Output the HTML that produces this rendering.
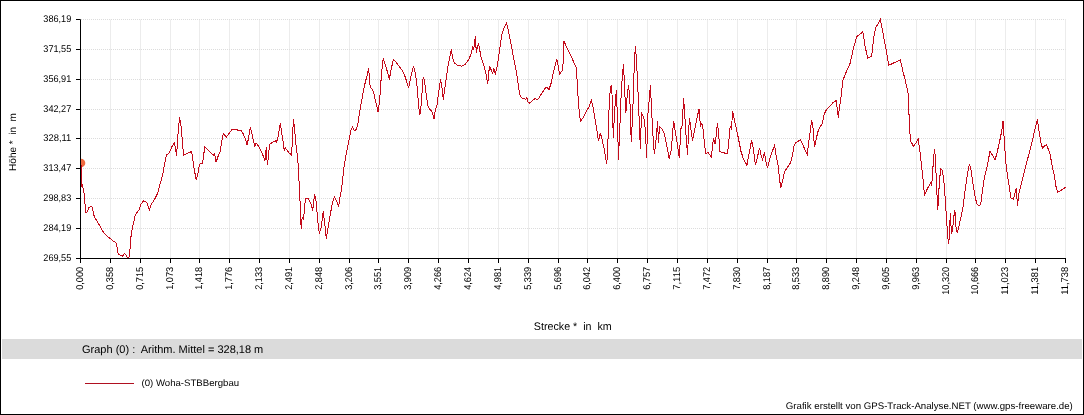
<!DOCTYPE html>
<html><head><meta charset="utf-8"><style>
html,body{margin:0;padding:0;background:#fff;}
#w{position:relative;width:1082px;height:413px;border:1px solid #000;overflow:hidden;background:#fff;}
svg text{font-family:"Liberation Sans",Arial,sans-serif;fill:#000;text-rendering:geometricPrecision;}
</style></head><body><div id="w">
<svg width="1084" height="415" viewBox="0 0 1084 415" style="position:absolute;left:-1px;top:-1px">
<rect x="2" y="339" width="1080" height="20" fill="#dbdbdb"/>
<defs><pattern id="dot" x="0" y="0" width="2" height="1" patternUnits="userSpaceOnUse"><rect x="1" y="0" width="1" height="1" fill="#dcdcdc"/></pattern></defs>
<line x1="110.5" y1="19.5" x2="110.5" y2="258.5" stroke="#ececec" stroke-width="1"/>
<line x1="140.5" y1="19.5" x2="140.5" y2="258.5" stroke="#ececec" stroke-width="1"/>
<line x1="170.5" y1="19.5" x2="170.5" y2="258.5" stroke="#ececec" stroke-width="1"/>
<line x1="199.5" y1="19.5" x2="199.5" y2="258.5" stroke="#ececec" stroke-width="1"/>
<line x1="229.5" y1="19.5" x2="229.5" y2="258.5" stroke="#ececec" stroke-width="1"/>
<line x1="259.5" y1="19.5" x2="259.5" y2="258.5" stroke="#ececec" stroke-width="1"/>
<line x1="289.5" y1="19.5" x2="289.5" y2="258.5" stroke="#ececec" stroke-width="1"/>
<line x1="319.5" y1="19.5" x2="319.5" y2="258.5" stroke="#ececec" stroke-width="1"/>
<line x1="349.5" y1="19.5" x2="349.5" y2="258.5" stroke="#ececec" stroke-width="1"/>
<line x1="378.5" y1="19.5" x2="378.5" y2="258.5" stroke="#ececec" stroke-width="1"/>
<line x1="408.5" y1="19.5" x2="408.5" y2="258.5" stroke="#ececec" stroke-width="1"/>
<line x1="438.5" y1="19.5" x2="438.5" y2="258.5" stroke="#ececec" stroke-width="1"/>
<line x1="468.5" y1="19.5" x2="468.5" y2="258.5" stroke="#ececec" stroke-width="1"/>
<line x1="498.5" y1="19.5" x2="498.5" y2="258.5" stroke="#ececec" stroke-width="1"/>
<line x1="528.5" y1="19.5" x2="528.5" y2="258.5" stroke="#ececec" stroke-width="1"/>
<line x1="558.5" y1="19.5" x2="558.5" y2="258.5" stroke="#ececec" stroke-width="1"/>
<line x1="587.5" y1="19.5" x2="587.5" y2="258.5" stroke="#ececec" stroke-width="1"/>
<line x1="617.5" y1="19.5" x2="617.5" y2="258.5" stroke="#ececec" stroke-width="1"/>
<line x1="647.5" y1="19.5" x2="647.5" y2="258.5" stroke="#ececec" stroke-width="1"/>
<line x1="677.5" y1="19.5" x2="677.5" y2="258.5" stroke="#ececec" stroke-width="1"/>
<line x1="707.5" y1="19.5" x2="707.5" y2="258.5" stroke="#ececec" stroke-width="1"/>
<line x1="737.5" y1="19.5" x2="737.5" y2="258.5" stroke="#ececec" stroke-width="1"/>
<line x1="767.5" y1="19.5" x2="767.5" y2="258.5" stroke="#ececec" stroke-width="1"/>
<line x1="796.5" y1="19.5" x2="796.5" y2="258.5" stroke="#ececec" stroke-width="1"/>
<line x1="826.5" y1="19.5" x2="826.5" y2="258.5" stroke="#ececec" stroke-width="1"/>
<line x1="856.5" y1="19.5" x2="856.5" y2="258.5" stroke="#ececec" stroke-width="1"/>
<line x1="886.5" y1="19.5" x2="886.5" y2="258.5" stroke="#ececec" stroke-width="1"/>
<line x1="916.5" y1="19.5" x2="916.5" y2="258.5" stroke="#ececec" stroke-width="1"/>
<line x1="946.5" y1="19.5" x2="946.5" y2="258.5" stroke="#ececec" stroke-width="1"/>
<line x1="975.5" y1="19.5" x2="975.5" y2="258.5" stroke="#ececec" stroke-width="1"/>
<line x1="1005.5" y1="19.5" x2="1005.5" y2="258.5" stroke="#ececec" stroke-width="1"/>
<line x1="1035.5" y1="19.5" x2="1035.5" y2="258.5" stroke="#ececec" stroke-width="1"/>
<line x1="1065.5" y1="19.5" x2="1065.5" y2="258.5" stroke="#ececec" stroke-width="1"/>
<rect x="81" y="19.0" width="984.5" height="1" fill="url(#dot)"/>
<rect x="81" y="49.0" width="984.5" height="1" fill="url(#dot)"/>
<rect x="81" y="79.0" width="984.5" height="1" fill="url(#dot)"/>
<rect x="81" y="109.0" width="984.5" height="1" fill="url(#dot)"/>
<rect x="81" y="138.0" width="984.5" height="1" fill="url(#dot)"/>
<rect x="81" y="168.0" width="984.5" height="1" fill="url(#dot)"/>
<rect x="81" y="198.0" width="984.5" height="1" fill="url(#dot)"/>
<rect x="81" y="228.0" width="984.5" height="1" fill="url(#dot)"/>
<clipPath id="c"><rect x="81" y="0" width="990" height="259"/></clipPath>
<circle cx="81" cy="163" r="4.3" fill="#ee6a40" clip-path="url(#c)"/>
<polyline points="81.5,165 81.5,187 82.3,185 83.8,191.2 85.9,212.8 86.9,212.5 88.8,207.8 91,206.3 92.4,207.5 93.6,214.3 94.7,217.6 97.3,221.6 100,226.2 102.6,230.9 105.3,234.4 107.9,236.8 111.2,239.2 113.9,241.5 115.9,242.8 117.2,247.4 117.9,252.7 119.2,254.7 122.5,256.1 124.5,253.4 126.2,255.1 127.1,257.4 128.9,257.8 129.8,251.4 131.1,235.5 132.5,227.5 133.8,222.2 135.1,215.6 137.1,212.3 139.1,209.6 140.5,205 143.6,200.9 146.8,202.2 149.4,209.7 151.1,204.7 154.4,199.6 157.7,193.3 160,184.1 162.7,175.1 164.5,164.2 166.3,155.2 169,153.4 171.7,147 174.5,142.5 176.6,156.1 177.7,138 179.5,117.2 180.8,123.6 181.7,133.5 183.5,155.2 187.1,153.4 191.6,151.6 194,167.8 196.1,179.6 198,173.3 199.4,164.2 202.5,163.3 204.8,147 207,148.9 210.6,152.5 213.3,155.2 214.6,153.4 216,162.4 217.9,156.9 220.1,151.9 221.5,142.5 223.4,133.5 224.8,135.2 226.3,137.4 229.2,133.1 232.3,129.2 235.2,129.2 238.1,130.2 241,130.2 243.2,133.8 245.4,138.9 247.1,145.4 249,135.2 250.4,127.3 251.9,133.8 253.3,140.3 254.8,146.1 256.2,143.2 258.4,146.1 262,153.3 263.4,156.2 264.9,161.3 266.3,146.8 267.3,164.9 268.2,158.4 269.6,144.6 272.1,142.5 275.5,141 276.5,142.5 278,136.7 279.4,128.7 280.4,123.4 281.6,132.3 282.7,138.9 283.7,146.8 284.5,151.1 285.2,147.5 286.6,149.7 288.8,152.6 291.7,155.2 292.4,138.1 293.4,119.3 294.6,129.5 295.3,136.7 296,145.4 297.5,156.9 298.2,165.6 298.7,174.7 299.7,194 300.6,215.2 301.2,228.7 302.2,217.1 303.5,219.1 305.4,198.8 308.3,198.8 311.2,204.6 312.8,210.4 314.5,194 316.1,201.7 318,222.9 319.3,233.5 321.3,226.8 323.2,211.3 324.7,222.9 326.3,239.3 327.6,230.6 330.5,213.3 332.5,202.6 334.4,196.9 337.3,202.6 338.6,206.5 340.2,195.9 341.7,188.2 343.1,175 344.3,165.1 346.1,154.2 347.9,145.2 349.7,136.1 351,129.8 352.5,127.1 354.3,130.4 356.1,129.8 357.9,123.5 359.3,114.5 360.6,107.2 361.5,101.3 363,93.3 364.4,86.1 365.8,80.3 367.3,74.5 368.7,68 369.2,75.2 370.2,87.5 372.4,89.5 373.8,93.3 375.2,99.8 376.7,105.6 378.1,112.3 379.3,102.7 380.3,91.2 381.3,76 382.5,63.7 383.2,58.5 385.4,65.1 387.4,71.8 389.3,79.6 391.2,68.9 393.5,59.3 396,62.2 398.9,66 401.8,69.9 404.7,75.7 406.7,81.5 408.6,88.2 410.5,78.6 413.4,66 415.3,72.8 417.3,88.2 418.6,105.6 419.8,115.2 421.1,105.6 423.1,77.6 424.4,79.6 426.3,95 427.9,105.6 430,109.5 431.9,111.3 434.2,119.3 435.3,110.1 436.9,105.6 438.7,91.8 440.6,79.2 442.2,89.5 443.3,99.8 445.6,82.7 447.9,66.6 449.7,57.5 451.3,49.5 452.5,57.5 454.3,63.2 458.2,65.5 461.6,66.2 465.1,64.3 468.5,59.8 471.1,54 472.6,47.5 473.7,49.7 474.7,42.1 475.4,35.6 476.3,52.9 477.6,46.4 478.4,43.2 479.7,49.7 481.2,58.3 483.4,63.7 484.9,69.1 486.7,77.8 487.7,84.3 488.8,71.3 489.9,67 491.4,70.2 492.7,73.5 493.8,68.1 495.3,74.6 497.5,64.8 499.7,49.7 501.8,34.5 504,28 506.6,23.2 508.3,30.2 510.5,41 513.7,58.3 517,75.6 519.1,90.8 520.2,96.2 522.4,98.4 524.2,98.5 525.8,99.5 526.8,97.5 527.7,101.4 529.3,103.3 531.6,101.4 535,98.5 537.4,99.8 539.3,97.5 542.2,92.7 546,86.9 547.4,87.9 548.9,89.8 550.9,84 552.8,75.3 554.7,67.6 556.7,58.9 558.2,65.7 559.6,74.4 561.5,71.5 562.8,70.5 563.8,40.6 566.3,46.4 570.2,54.1 574,62.8 576,66.7 576.9,77.3 578.6,105.9 580.4,121.2 583.1,117.6 585.9,112.2 589.5,105.9 591.3,100.4 593.1,107.7 594.9,118.5 596.7,129.4 598.5,141.2 600.3,133 602.1,139.3 604.7,151.7 606.6,164.3 607.6,152.9 608.6,118.8 609.4,101 610.2,90.2 611.3,84.7 612.5,101 612.9,123.5 613.3,137.6 614.4,114.9 615.4,99.6 616.5,90.2 617.2,112.5 618.5,159.6 619.6,129.8 620.7,111 621.2,90.2 622.7,72.9 623.5,64.3 624.3,81.5 625.4,105 625.9,112.5 627.4,93.3 628.5,85.5 629.8,96.4 630.6,125.1 631.3,142.3 632.9,107.8 633.7,82.3 634.5,58.8 635.4,46.3 636.4,58.8 637.3,77.6 638.4,99.6 639.2,120.4 640.4,148.6 641.5,112.5 643.9,118 645.5,131.3 646.6,158 647.9,114 649.2,100.4 650.4,85 651.8,114 653.1,137.1 654.3,153.5 655.6,144.8 656.6,133.3 657.5,120.7 658.5,142.9 659.5,126.5 662.4,129.4 664.3,133.3 665.8,141 667.2,147.7 669.1,158.4 671.1,150.6 672,141 673.6,120.7 674.9,129.4 676.9,141 678.2,150.6 679.4,158.4 680.7,129.4 682.1,125.5 683.6,98.5 684.6,112 685.9,133.3 687.5,154.5 689.4,117.8 692.5,140.5 694.6,129.6 697.2,117.1 699,109 700.5,126.2 701.8,123.5 703,128.9 704.5,144.3 705.9,153.3 708.1,152.4 709.9,155.1 711.3,157 712.6,146.1 713.5,137.9 715,144.3 716.2,135.2 717.5,122.6 718.6,133.4 719.9,151.5 722.6,152.4 725.3,153.3 727.6,153.3 728.9,140.7 730.2,126.2 731.6,128.9 732.5,110.8 733.4,115.3 735.2,123.5 737.4,133.4 739.2,142.5 741,151.5 743.4,158.8 746.9,165.2 749,154.3 751.7,139.9 753.6,150.7 755.4,165.2 757.2,158 759.5,148 761.3,156.1 762.6,159.8 764.4,152.5 765.7,160.7 767.5,167.9 769.8,158.9 772.5,150.7 774.7,145.3 776.1,155.2 778,165.2 779.4,177.8 780.7,187.8 782.5,181.4 784.3,172.4 787,167.9 789.7,164.3 791.5,159.8 793,152.5 794.2,145.3 796,142.6 797.8,141.3 800.4,140.1 803.1,145.5 805.5,151 807.3,154.6 808.6,142.8 810.4,130.2 811.6,120.2 813.1,128.4 814.5,147.4 816.3,138.3 818.1,131.1 820.3,126.6 822.5,123 824.3,113.9 826.1,110.3 829.3,106.7 833,102.7 836.2,100.4 838.4,117.5 839.3,108.5 841,97 843,80 846.1,72.3 850.2,63.1 853.3,48.8 856.8,36.5 860.5,33.8 862.9,31.8 865,45.7 867.6,58 871.7,56 873.8,37.5 875.8,27.3 878.5,23.2 880.3,19.5 883,33.4 886.1,49.8 888.7,65.2 892.2,63.7 896.3,61.7 900.3,60 902.9,71.2 905.6,81.7 908.2,93.7 909.6,129.4 910.7,141.3 913.6,146.4 916.3,142.3 918.3,139.2 919.8,150.5 921.4,164.8 923,179.2 924.5,195.6 926.5,190.5 929.2,185.3 930.6,182.9 931.6,186.4 932.7,171 933.7,156.6 934.7,149.5 935.7,164.8 936.8,191.5 937.8,209.9 938.8,191.5 939.8,177.1 940.9,168.9 942.3,170 943.9,181.2 945.3,200 946.4,216.9 947.6,235.3 948.7,244.4 949.6,230.7 950.3,213.5 951.5,234.1 952.6,229.5 953.8,216.9 954.9,210 956.1,228.4 957.2,233 959.5,223.8 962.9,207.8 965.2,189.4 967.5,173.3 969.4,164.2 971,170 972,177 973.8,189 975.6,199 977.1,204.5 979.2,205.5 980.7,204.5 981.9,194.5 983.7,182 985.5,173 987.3,165.7 990,151.2 992.7,155.5 995.1,160 997.4,151.2 999.5,142 1001.8,130.6 1003,121 1004.2,139 1005.4,156.6 1006.3,168 1008.6,182.3 1011,197.9 1013.4,199.1 1015,193.1 1016.3,188.3 1017.5,206.3 1018.7,194.3 1021.1,184.7 1024.7,170.3 1028.3,156.4 1031.7,143.2 1034.8,130 1037.4,119.1 1039.1,131.7 1040.7,141.5 1042.4,148 1044.6,145.9 1046.3,144.8 1047.8,148 1050,153.5 1052.2,166.5 1054.3,175.2 1055.9,186.1 1057.6,192.2 1060.9,190.4 1064.1,188.3 1065.5,187" fill="none" stroke="#c40a1a" stroke-width="1" shape-rendering="crispEdges"/>
<line x1="80.5" y1="19.5" x2="80.5" y2="259.0" stroke="#000" stroke-width="1"/>
<line x1="80.0" y1="258.5" x2="1066.0" y2="258.5" stroke="#000" stroke-width="1"/>
<line x1="76" y1="19.5" x2="80.5" y2="19.5" stroke="#000" stroke-width="1"/>
<line x1="76" y1="49.5" x2="80.5" y2="49.5" stroke="#000" stroke-width="1"/>
<line x1="76" y1="79.5" x2="80.5" y2="79.5" stroke="#000" stroke-width="1"/>
<line x1="76" y1="109.5" x2="80.5" y2="109.5" stroke="#000" stroke-width="1"/>
<line x1="76" y1="138.5" x2="80.5" y2="138.5" stroke="#000" stroke-width="1"/>
<line x1="76" y1="168.5" x2="80.5" y2="168.5" stroke="#000" stroke-width="1"/>
<line x1="76" y1="198.5" x2="80.5" y2="198.5" stroke="#000" stroke-width="1"/>
<line x1="76" y1="228.5" x2="80.5" y2="228.5" stroke="#000" stroke-width="1"/>
<line x1="76" y1="258.5" x2="80.5" y2="258.5" stroke="#000" stroke-width="1"/>
<line x1="80.5" y1="258.5" x2="80.5" y2="263" stroke="#000" stroke-width="1"/>
<line x1="110.5" y1="258.5" x2="110.5" y2="263" stroke="#000" stroke-width="1"/>
<line x1="140.5" y1="258.5" x2="140.5" y2="263" stroke="#000" stroke-width="1"/>
<line x1="170.5" y1="258.5" x2="170.5" y2="263" stroke="#000" stroke-width="1"/>
<line x1="199.5" y1="258.5" x2="199.5" y2="263" stroke="#000" stroke-width="1"/>
<line x1="229.5" y1="258.5" x2="229.5" y2="263" stroke="#000" stroke-width="1"/>
<line x1="259.5" y1="258.5" x2="259.5" y2="263" stroke="#000" stroke-width="1"/>
<line x1="289.5" y1="258.5" x2="289.5" y2="263" stroke="#000" stroke-width="1"/>
<line x1="319.5" y1="258.5" x2="319.5" y2="263" stroke="#000" stroke-width="1"/>
<line x1="349.5" y1="258.5" x2="349.5" y2="263" stroke="#000" stroke-width="1"/>
<line x1="378.5" y1="258.5" x2="378.5" y2="263" stroke="#000" stroke-width="1"/>
<line x1="408.5" y1="258.5" x2="408.5" y2="263" stroke="#000" stroke-width="1"/>
<line x1="438.5" y1="258.5" x2="438.5" y2="263" stroke="#000" stroke-width="1"/>
<line x1="468.5" y1="258.5" x2="468.5" y2="263" stroke="#000" stroke-width="1"/>
<line x1="498.5" y1="258.5" x2="498.5" y2="263" stroke="#000" stroke-width="1"/>
<line x1="528.5" y1="258.5" x2="528.5" y2="263" stroke="#000" stroke-width="1"/>
<line x1="558.5" y1="258.5" x2="558.5" y2="263" stroke="#000" stroke-width="1"/>
<line x1="587.5" y1="258.5" x2="587.5" y2="263" stroke="#000" stroke-width="1"/>
<line x1="617.5" y1="258.5" x2="617.5" y2="263" stroke="#000" stroke-width="1"/>
<line x1="647.5" y1="258.5" x2="647.5" y2="263" stroke="#000" stroke-width="1"/>
<line x1="677.5" y1="258.5" x2="677.5" y2="263" stroke="#000" stroke-width="1"/>
<line x1="707.5" y1="258.5" x2="707.5" y2="263" stroke="#000" stroke-width="1"/>
<line x1="737.5" y1="258.5" x2="737.5" y2="263" stroke="#000" stroke-width="1"/>
<line x1="767.5" y1="258.5" x2="767.5" y2="263" stroke="#000" stroke-width="1"/>
<line x1="796.5" y1="258.5" x2="796.5" y2="263" stroke="#000" stroke-width="1"/>
<line x1="826.5" y1="258.5" x2="826.5" y2="263" stroke="#000" stroke-width="1"/>
<line x1="856.5" y1="258.5" x2="856.5" y2="263" stroke="#000" stroke-width="1"/>
<line x1="886.5" y1="258.5" x2="886.5" y2="263" stroke="#000" stroke-width="1"/>
<line x1="916.5" y1="258.5" x2="916.5" y2="263" stroke="#000" stroke-width="1"/>
<line x1="946.5" y1="258.5" x2="946.5" y2="263" stroke="#000" stroke-width="1"/>
<line x1="975.5" y1="258.5" x2="975.5" y2="263" stroke="#000" stroke-width="1"/>
<line x1="1005.5" y1="258.5" x2="1005.5" y2="263" stroke="#000" stroke-width="1"/>
<line x1="1035.5" y1="258.5" x2="1035.5" y2="263" stroke="#000" stroke-width="1"/>
<line x1="1065.5" y1="258.5" x2="1065.5" y2="263" stroke="#000" stroke-width="1"/>
<text x="71.3" y="21.8" text-anchor="end" font-size="9.8" textLength="28" lengthAdjust="spacingAndGlyphs">386,19</text>
<text x="71.3" y="51.8" text-anchor="end" font-size="9.8" textLength="28" lengthAdjust="spacingAndGlyphs">371,55</text>
<text x="71.3" y="81.8" text-anchor="end" font-size="9.8" textLength="28" lengthAdjust="spacingAndGlyphs">356,91</text>
<text x="71.3" y="111.8" text-anchor="end" font-size="9.8" textLength="28" lengthAdjust="spacingAndGlyphs">342,27</text>
<text x="71.3" y="140.8" text-anchor="end" font-size="9.8" textLength="28" lengthAdjust="spacingAndGlyphs">328,11</text>
<text x="71.3" y="170.8" text-anchor="end" font-size="9.8" textLength="28" lengthAdjust="spacingAndGlyphs">313,47</text>
<text x="71.3" y="200.8" text-anchor="end" font-size="9.8" textLength="28" lengthAdjust="spacingAndGlyphs">298,83</text>
<text x="71.3" y="230.8" text-anchor="end" font-size="9.8" textLength="28" lengthAdjust="spacingAndGlyphs">284,19</text>
<text x="71.3" y="260.8" text-anchor="end" font-size="9.8" textLength="28" lengthAdjust="spacingAndGlyphs">269,55</text>
<text transform="translate(83.1,266.8) rotate(-90)" text-anchor="end" font-size="9.8" textLength="23" lengthAdjust="spacingAndGlyphs">0,000</text>
<text transform="translate(113.1,266.8) rotate(-90)" text-anchor="end" font-size="9.8" textLength="23" lengthAdjust="spacingAndGlyphs">0,358</text>
<text transform="translate(143.1,266.8) rotate(-90)" text-anchor="end" font-size="9.8" textLength="23" lengthAdjust="spacingAndGlyphs">0,715</text>
<text transform="translate(173.1,266.8) rotate(-90)" text-anchor="end" font-size="9.8" textLength="23" lengthAdjust="spacingAndGlyphs">1,073</text>
<text transform="translate(202.1,266.8) rotate(-90)" text-anchor="end" font-size="9.8" textLength="23" lengthAdjust="spacingAndGlyphs">1,418</text>
<text transform="translate(232.1,266.8) rotate(-90)" text-anchor="end" font-size="9.8" textLength="23" lengthAdjust="spacingAndGlyphs">1,776</text>
<text transform="translate(262.1,266.8) rotate(-90)" text-anchor="end" font-size="9.8" textLength="23" lengthAdjust="spacingAndGlyphs">2,133</text>
<text transform="translate(292.1,266.8) rotate(-90)" text-anchor="end" font-size="9.8" textLength="23" lengthAdjust="spacingAndGlyphs">2,491</text>
<text transform="translate(322.1,266.8) rotate(-90)" text-anchor="end" font-size="9.8" textLength="23" lengthAdjust="spacingAndGlyphs">2,848</text>
<text transform="translate(352.1,266.8) rotate(-90)" text-anchor="end" font-size="9.8" textLength="23" lengthAdjust="spacingAndGlyphs">3,206</text>
<text transform="translate(381.1,266.8) rotate(-90)" text-anchor="end" font-size="9.8" textLength="23" lengthAdjust="spacingAndGlyphs">3,551</text>
<text transform="translate(411.1,266.8) rotate(-90)" text-anchor="end" font-size="9.8" textLength="23" lengthAdjust="spacingAndGlyphs">3,909</text>
<text transform="translate(441.1,266.8) rotate(-90)" text-anchor="end" font-size="9.8" textLength="23" lengthAdjust="spacingAndGlyphs">4,266</text>
<text transform="translate(471.1,266.8) rotate(-90)" text-anchor="end" font-size="9.8" textLength="23" lengthAdjust="spacingAndGlyphs">4,624</text>
<text transform="translate(501.1,266.8) rotate(-90)" text-anchor="end" font-size="9.8" textLength="23" lengthAdjust="spacingAndGlyphs">4,981</text>
<text transform="translate(531.1,266.8) rotate(-90)" text-anchor="end" font-size="9.8" textLength="23" lengthAdjust="spacingAndGlyphs">5,339</text>
<text transform="translate(561.1,266.8) rotate(-90)" text-anchor="end" font-size="9.8" textLength="23" lengthAdjust="spacingAndGlyphs">5,696</text>
<text transform="translate(590.1,266.8) rotate(-90)" text-anchor="end" font-size="9.8" textLength="23" lengthAdjust="spacingAndGlyphs">6,042</text>
<text transform="translate(620.1,266.8) rotate(-90)" text-anchor="end" font-size="9.8" textLength="23" lengthAdjust="spacingAndGlyphs">6,400</text>
<text transform="translate(650.1,266.8) rotate(-90)" text-anchor="end" font-size="9.8" textLength="23" lengthAdjust="spacingAndGlyphs">6,757</text>
<text transform="translate(680.1,266.8) rotate(-90)" text-anchor="end" font-size="9.8" textLength="23" lengthAdjust="spacingAndGlyphs">7,115</text>
<text transform="translate(710.1,266.8) rotate(-90)" text-anchor="end" font-size="9.8" textLength="23" lengthAdjust="spacingAndGlyphs">7,472</text>
<text transform="translate(740.1,266.8) rotate(-90)" text-anchor="end" font-size="9.8" textLength="23" lengthAdjust="spacingAndGlyphs">7,830</text>
<text transform="translate(770.1,266.8) rotate(-90)" text-anchor="end" font-size="9.8" textLength="23" lengthAdjust="spacingAndGlyphs">8,187</text>
<text transform="translate(799.1,266.8) rotate(-90)" text-anchor="end" font-size="9.8" textLength="23" lengthAdjust="spacingAndGlyphs">8,533</text>
<text transform="translate(829.1,266.8) rotate(-90)" text-anchor="end" font-size="9.8" textLength="23" lengthAdjust="spacingAndGlyphs">8,890</text>
<text transform="translate(859.1,266.8) rotate(-90)" text-anchor="end" font-size="9.8" textLength="23" lengthAdjust="spacingAndGlyphs">9,248</text>
<text transform="translate(889.1,266.8) rotate(-90)" text-anchor="end" font-size="9.8" textLength="23" lengthAdjust="spacingAndGlyphs">9,605</text>
<text transform="translate(919.1,266.8) rotate(-90)" text-anchor="end" font-size="9.8" textLength="23" lengthAdjust="spacingAndGlyphs">9,963</text>
<text transform="translate(949.1,266.8) rotate(-90)" text-anchor="end" font-size="9.8" textLength="28" lengthAdjust="spacingAndGlyphs">10,320</text>
<text transform="translate(978.1,266.8) rotate(-90)" text-anchor="end" font-size="9.8" textLength="28" lengthAdjust="spacingAndGlyphs">10,666</text>
<text transform="translate(1008.1,266.8) rotate(-90)" text-anchor="end" font-size="9.8" textLength="28" lengthAdjust="spacingAndGlyphs">11,023</text>
<text transform="translate(1038.1,266.8) rotate(-90)" text-anchor="end" font-size="9.8" textLength="28" lengthAdjust="spacingAndGlyphs">11,381</text>
<text transform="translate(1068.1,266.8) rotate(-90)" text-anchor="end" font-size="9.8" textLength="28" lengthAdjust="spacingAndGlyphs">11,738</text>
<text transform="translate(15.5,142) rotate(-90)" text-anchor="middle" font-size="10" xml:space="preserve">Höhe *  in  m</text>
<text x="572.8" y="329.8" text-anchor="middle" font-size="11" textLength="78" lengthAdjust="spacingAndGlyphs" xml:space="preserve">Strecke *  in  km</text>
<text x="82" y="352.8" font-size="11" xml:space="preserve">Graph (0) :  Arithm. Mittel = 328,18 m</text>
<line x1="85" y1="383.5" x2="134" y2="383.5" stroke="#b01020" stroke-width="1"/>
<text x="141.5" y="386" font-size="9.4" textLength="97.6" lengthAdjust="spacingAndGlyphs">(0) Woha-STBBergbau</text>
<text x="1072.8" y="408.5" text-anchor="end" font-size="9.5" textLength="287" lengthAdjust="spacingAndGlyphs">Grafik erstellt von GPS-Track-Analyse.NET (www.gps-freeware.de)</text>
</svg>
</div></body></html>
